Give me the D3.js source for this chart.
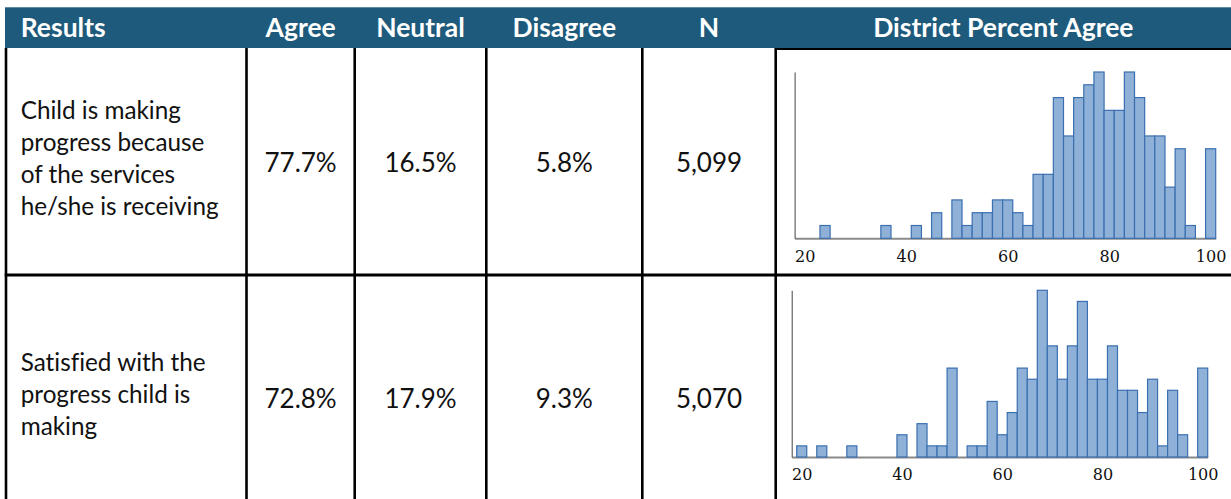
<!DOCTYPE html>
<html>
<head>
<meta charset="utf-8">
<script src="https://cdn.jsdelivr.net/npm/d3@7"></script>
<style>
  html, body { margin: 0; padding: 0; background: #fff; }
  svg { display: block; }
  svg text { font-variant-ligatures: none; }
  .head-label { font-family: Lato, sans-serif; font-weight: bold; font-size: 26.5px; fill: #fff; }
  .question { font-family: Lato, sans-serif; font-size: 24.3px; fill: #111; }
  .stat { font-family: Lato, sans-serif; font-size: 26px; fill: #111; }
  .hist-axis text { font-family: 'DejaVu Serif', serif; font-size: 16px; fill: #111; }
</style>
</head>
<body>
<div id="chart"></div>
<script>
// table content
var headers = ['Results', 'Agree', 'Neutral', 'Disagree', 'N', 'District Percent Agree'];
var questionLines = [
  ['Child is making', 'progress because', 'of the services', 'he/she is receiving'],
  ['Satisfied with the', 'progress child is', 'making']
];
var agreePct = ['77.7%', '72.8%'];
var neutralPct = ['16.5%', '17.9%'];
var disagreePct = ['5.8%', '9.3%'];
var respondents = ['5,099', '5,070'];

// histogram bins (centre of each 2-point bin) and district counts
var binCenters = [20, 22, 24, 26, 28, 30, 32, 34, 36, 38, 40, 42, 44, 46, 48, 50, 52, 54, 56, 58,
  60, 62, 64, 66, 68, 70, 72, 74, 76, 78, 80, 82, 84, 86, 88, 90, 92, 94, 96, 98, 100];
var progressCounts = [0, 0, 1, 0, 0, 0, 0, 0, 1, 0, 0, 1, 0, 2, 0, 3, 1, 2, 2, 3,
  3, 2, 1, 5, 5, 11, 8, 11, 12, 13, 10, 10, 13, 11, 8, 8, 4, 7, 1, 0, 7];
var satisfiedCounts = [1, 0, 1, 0, 0, 1, 0, 0, 0, 0, 2, 0, 3, 1, 1, 8, 0, 1, 1, 5,
  2, 4, 8, 7, 15, 10, 7, 10, 14, 7, 7, 10, 6, 6, 4, 7, 1, 6, 2, 0, 8];
var xTicks = [20, 40, 60, 80, 100];
var xDomain = [18, 101];

(function(app) {
  'use strict';

  app.ResultsTable = function(dom) {
    this.domNode = dom;
    this._setup();
  };

  app.ResultsTable.prototype._setup = function() {

    var svgWidth = 1231,
      svgHeight = 499,
      colEdges = [6, 246.5, 354.7, 486.3, 642.3, 775.7, 1231],
      headTop = 7.3,
      headBottom = 48,
      // second row is cut off by the page, its centre sits lower
      rows = [{top: 49, bottom: 275, mid: 162}, {top: 275, bottom: 499, mid: 398}],
      lineHeight = 32.3,
      textLeft = 20.7;

    var svg = d3.select(this.domNode)
      .append('svg')
      .attr('width', svgWidth)
      .attr('height', svgHeight);

    //header band
    svg.append('rect')
      .attr('x', colEdges[0] - 1)
      .attr('y', headTop)
      .attr('width', svgWidth - colEdges[0] + 1)
      .attr('height', headBottom - headTop)
      .attr('fill', '#1e5a7b');

    svg.selectAll('.head-label')
      .data(headers)
      .enter().append('text')
      .classed('head-label', true)
      .attr('x', function(d, i) {
        return i === 0 ? textLeft : (colEdges[i] + colEdges[i + 1]) / 2;
      })
      .attr('y', 36.5)
      .attr('text-anchor', function(d, i) { return i === 0 ? 'start' : 'middle'; })
      .text(function(d) { return d; });

    //grid lines
    svg.selectAll('.col-line')
      .data(colEdges.slice(0, 6))
      .enter().append('line')
      .attr('x1', function(d) { return d; })
      .attr('x2', function(d) { return d; })
      .attr('y1', headBottom)
      .attr('y2', svgHeight)
      .attr('stroke', '#000')
      .attr('stroke-width', 2.6);

    svg.append('line')
      .attr('x1', colEdges[0] - 1.3)
      .attr('x2', svgWidth)
      .attr('y1', rows[1].top)
      .attr('y2', rows[1].top)
      .attr('stroke', '#000')
      .attr('stroke-width', 3);

    svg.append('line')
      .attr('x1', colEdges[5])
      .attr('x2', svgWidth)
      .attr('y1', headBottom + 1)
      .attr('y2', headBottom + 1)
      .attr('stroke', '#000')
      .attr('stroke-width', 2);

    //question text
    questionLines.forEach(function(lines, r) {
      var first = rows[r].mid + 5 - (lines.length - 1) / 2 * lineHeight;
      svg.append('g').selectAll('text')
        .data(lines)
        .enter().append('text')
        .classed('question', true)
        .attr('x', textLeft)
        .attr('y', function(d, i) { return first + i * lineHeight; })
        .text(function(d) { return d; });
    });

    //stat columns
    [agreePct, neutralPct, disagreePct, respondents].forEach(function(col, c) {
      svg.append('g').selectAll('text')
        .data(col)
        .enter().append('text')
        .classed('stat', true)
        .attr('x', (colEdges[c + 1] + colEdges[c + 2]) / 2)
        .attr('y', function(d, r) { return rows[r].mid + 9.5; })
        .attr('text-anchor', 'middle')
        .text(function(d) { return d; });
    });

    //histograms
    var panels = [
      {counts: progressCounts, left: 794.6, right: 1215.7, top: 72, bottom: 238.3},
      {counts: satisfiedCounts, left: 791.7, right: 1207.7, top: 290.3, bottom: 457}
    ];

    panels.forEach(function(p) {
      var x = d3.scaleLinear().domain(xDomain).range([p.left, p.right]);
      var y = d3.scaleLinear().domain([0, d3.max(p.counts)]).range([p.bottom, p.top]);

      var bins = binCenters.map(function(c, i) {
        return {center: c, count: p.counts[i]};
      }).filter(function(d) { return d.count > 0; });

      svg.append('g')
        .attr('transform', 'translate(0,' + p.bottom + ')')
        .classed('hist-axis', true)
        .call(d3.axisBottom(x).tickValues(xTicks).tickSize(0).tickSizeOuter(0).tickPadding(12))
        .call(function(g) {
          g.select('.domain').attr('stroke', '#8a8a8a').attr('stroke-width', 2);
        });

      svg.append('g')
        .attr('transform', 'translate(' + p.left + ',0)')
        .call(d3.axisLeft(y).tickValues([]).tickSizeOuter(0))
        .call(function(g) {
          g.select('.domain').attr('stroke', '#444').attr('stroke-width', 1);
        });

      svg.append('g').selectAll('rect')
        .data(bins)
        .enter().append('rect')
        .attr('x', function(d) { return x(d.center - 1); })
        .attr('width', function(d) { return x(d.center + 1) - x(d.center - 1); })
        .attr('y', function(d) { return y(d.count); })
        .attr('height', function(d) { return p.bottom - y(d.count); })
        .attr('fill', '#8fb1d7')
        .attr('stroke', '#3a6fb0')
        .attr('stroke-width', 1.2);
    });
  };

  new app.ResultsTable(document.getElementById('chart'));

})(window.app || (window.app = {}));
</script>
</body>
</html>
